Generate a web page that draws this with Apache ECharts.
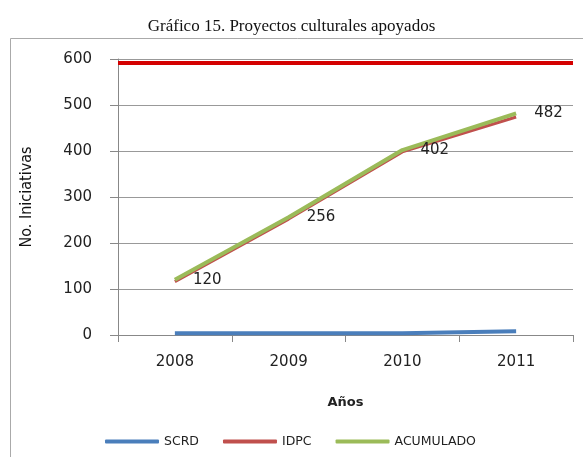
<!DOCTYPE html>
<html>
<head>
<meta charset="utf-8">
<script src="https://cdn.jsdelivr.net/npm/echarts@6/dist/echarts.min.js"></script>
<style>
  html, body { margin: 0; padding: 0; background: #fff; }
  #chart { width: 583px; height: 457px; }
</style>
</head>
<body>
<div id="chart"></div>
<script>
// datos
const years = ['2008', '2009', '2010', '2011'];
const scrd = [4, 4, 4, 8];
const idpc = [116, 252, 398, 474];
const acumulado = [120, 256, 402, 482];
const idpcLine = 592; // linea horizontal roja
const yTicks = [0, 100, 200, 300, 400, 500, 600];

const tickFont = { fontFamily: 'DejaVu Sans', fontSize: 15, color: '#222' };

const chart = echarts.init(document.getElementById('chart'));

chart.setOption({
  animation: false,
  title: {
    text: 'Gráfico 15. Proyectos culturales apoyados',
    left: 'center',
    top: 13,
    textStyle: { fontFamily: 'Liberation Serif', fontSize: 17, fontWeight: 'normal', color: '#111' }
  },
  graphic: [{
    type: 'rect',
    shape: { x: 10.5, y: 38.5, width: 600, height: 500 },
    style: { fill: 'none', stroke: '#aaa', lineWidth: 1 },
    silent: true
  }],
  grid: { left: 118, right: 10, top: 59, bottom: 122 },
  legend: {
    left: 100,
    top: 430,
    icon: 'roundRect',
    itemWidth: 54,
    itemHeight: 4,
    itemGap: 24,
    textStyle: { fontFamily: 'DejaVu Sans', fontSize: 12.5, color: '#222' },
    data: ['SCRD', 'IDPC', 'ACUMULADO']
  },
  xAxis: {
    type: 'category',
    data: years,
    boundaryGap: true,
    name: 'Años',
    nameLocation: 'middle',
    nameGap: 61,
    nameTextStyle: { fontFamily: 'DejaVu Sans', fontSize: 13, fontWeight: 'bold', color: '#222' },
    axisLine: { lineStyle: { color: '#888', width: 1 } },
    axisTick: { show: true, length: 7, lineStyle: { color: '#888' } },
    axisLabel: Object.assign({ margin: 20 }, tickFont),
    splitLine: { show: false }
  },
  yAxis: {
    type: 'value',
    min: yTicks[0],
    max: yTicks[yTicks.length - 1],
    interval: 100,
    name: 'No. Iniciativas',
    nameLocation: 'middle',
    nameGap: 83,
    nameRotate: 90,
    nameTextStyle: { fontFamily: 'DejaVu Sans Condensed, Liberation Sans', fontSize: 16, color: '#111' },
    axisLine: { show: true, lineStyle: { color: '#888', width: 1 } },
    axisTick: { show: true, length: 8, lineStyle: { color: '#888' } },
    axisLabel: Object.assign({ margin: 26 }, tickFont),
    splitLine: { show: true, lineStyle: { color: '#999', width: 1 } }
  },
  series: [
    {
      name: 'SCRD',
      type: 'line',
      data: scrd,
      showSymbol: false,
      symbol: 'none',
      lineStyle: { color: '#4a7ebb', width: 4 },
      itemStyle: { color: '#4a7ebb' }
    },
    {
      name: 'IDPC',
      type: 'line',
      data: idpc,
      showSymbol: false,
      symbol: 'none',
      lineStyle: { color: '#c0504d', width: 3 },
      itemStyle: { color: '#c0504d' },
      markLine: {
        silent: true,
        symbol: 'none',
        label: { show: false },
        lineStyle: { color: '#d40000', width: 4, type: 'solid' },
        data: [{ yAxis: idpcLine }]
      }
    },
    {
      name: 'ACUMULADO',
      type: 'line',
      data: acumulado,
      showSymbol: true,
      symbol: 'circle',
      symbolSize: 0,
      lineStyle: { color: '#9bbb59', width: 4 },
      itemStyle: { color: '#9bbb59' },
      z: 3,
      label: {
        show: true,
        position: 'right',
        distance: 18,
        fontFamily: 'DejaVu Sans',
        fontSize: 15,
        color: '#222'
      }
    }
  ]
});
</script>
</body>
</html>
